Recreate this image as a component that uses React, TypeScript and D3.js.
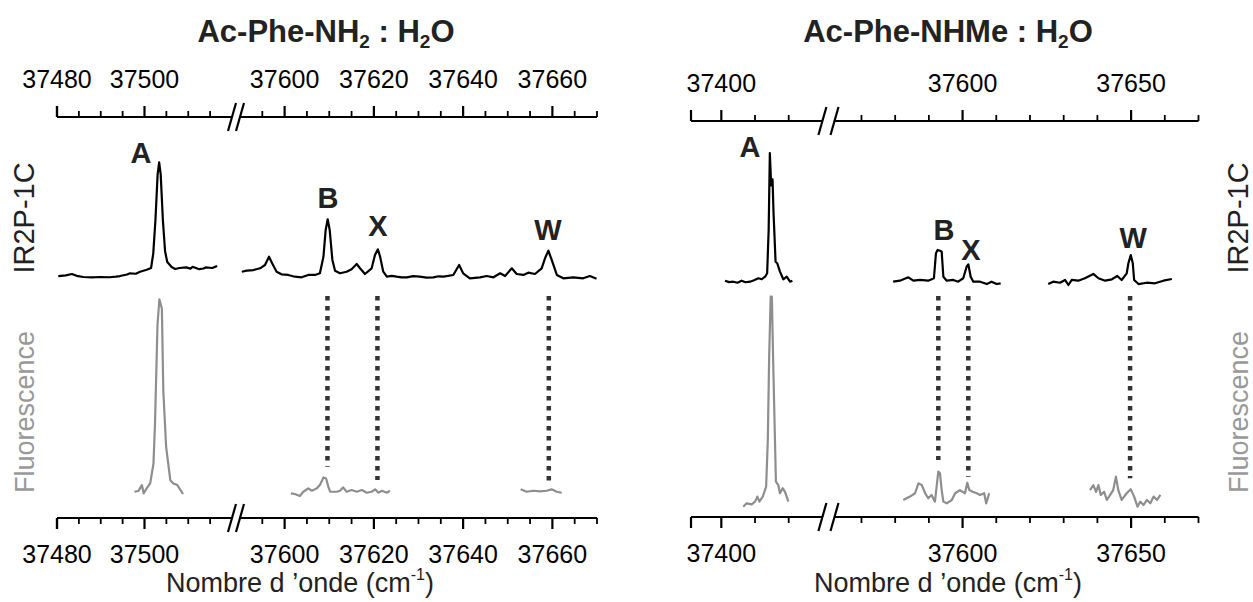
import React from 'react';
import * as d3 from 'd3';

type Pt = [number, number];

// ---------- tick values ----------
const leftMajor = [37480, 37500, 37600, 37620, 37640, 37660];
const leftMinor = [37485, 37490, 37495, 37505, 37510, 37515, 37595, 37605, 37610, 37615, 37625, 37630, 37635, 37645, 37650, 37655, 37665, 37670];
const rightMajor = [37400, 37600, 37650];
const rightMinor = [37410, 37420, 37570, 37580, 37590, 37610, 37620, 37630, 37640, 37660, 37670];

// ---------- Ac-Phe-NH2 : H2O ----------
const irA_L: Pt[] = [[37480.3,3.3],[37482,3.9],[37483.4,5.0],[37484.5,3.5],[37486,2.5],[37488,2.2],[37490,2.5],[37492,2.3],[37493.5,2.8],[37494.4,3.3],[37496,4.6],[37496.7,5.6],[37498,5.2],[37499,6.9],[37500.5,8.5],[37501.5,10],[37502,22],[37502.5,50],[37503,88],[37503.35,98],[37503.7,88],[37504.2,50],[37504.7,24],[37505.2,15],[37506.2,10.8],[37507,9.2],[37508,10],[37509.5,10.5],[37510.5,9.5],[37511,11],[37512.5,9],[37513.5,9.6],[37514,10.5],[37515.5,10],[37516.6,11.7]];
const irR_L: Pt[] = [[37590.4,6.9],[37591.5,7.75],[37593.0,8.3],[37594.5,9.75],[37595.6,12.5],[37596.5,19.4],[37597.2,13.9],[37598.2,6.9],[37599.3,4.75],[37600.8,4.2],[37602.3,2.75],[37603.8,2.25],[37605.3,4.2],[37606.8,4.2],[37607.9,5.6],[37608.7,19.4],[37609.2,41.7],[37609.65,50.6],[37610.1,41.7],[37610.7,16.7],[37611.3,7.75],[37612.4,5.6],[37613.9,6.9],[37615.0,8.9],[37616.15,13.3],[37616.9,9.75],[37618.0,5],[37619.5,9.75],[37620.25,20.8],[37620.9,25.6],[37621.4,19.4],[37622.1,6.9],[37622.9,2.75],[37624,3.4],[37625.1,2.75],[37626.2,2.2],[37627.4,2.25],[37628.8,3.2],[37630.3,2.75],[37631.8,2.0],[37633.3,2.25],[37634.5,3.1],[37635.6,2.75],[37637.8,4.2],[37639.1,12.5],[37640.0,5.6],[37641.5,1.4],[37643.8,2.25],[37645.3,3.3],[37646.8,2.25],[37648.3,5.6],[37649.4,3.3],[37650.9,9.75],[37652.0,5],[37653.5,4.2],[37654.6,6.1],[37656.1,5],[37657.6,9.75],[37658.35,18.1],[37659.1,24.4],[37659.85,16.7],[37661.0,4.2],[37662.45,1.4],[37664.7,2.25],[37666.9,1.4],[37668.4,3.3],[37669.9,1.1]];
const flA_L: Pt[] = [[37497.7,1.65],[37498.6,2],[37499.4,5],[37499.8,0.85],[37500.5,3.35],[37501.3,5.85],[37502.05,15.85],[37502.4,36],[37502.97,86],[37503.4,98.85],[37503.97,94.15],[37504.3,52.5],[37504.95,24.15],[37505.9,7.5],[37506.6,5.85],[37507.5,5],[37508.8,0.5]];
const flB_L: Pt[] = [[37601.4,0.85],[37602.3,0.5],[37603.4,-0.5],[37604.2,1.65],[37605.3,3.35],[37606.1,2.15],[37607.2,3.35],[37607.9,5],[37608.7,8.85],[37609.3,8.35],[37609.8,4.15],[37610.2,1.65],[37611.7,1.65],[37612.4,2.15],[37613.1,3.85],[37613.9,1.65],[37615.0,2.5],[37616.2,1.65],[37617.3,2.5],[37618.4,1.15],[37619.5,1.65],[37620.3,2.85],[37621.0,1.15],[37621.8,2.15],[37622.9,1.15],[37623.6,2.15]];
const flW_L: Pt[] = [[37652.9,2.85],[37654.2,1.65],[37655.7,2.15],[37657.2,1.85],[37658.7,2.15],[37659.8,2.85],[37661.0,1.65],[37662.1,1.15]];
const dotsL = [37609.6, 37620.8, 37659.2];
const dotsLBottom = [14.3, 7.6, 6.7];

// ---------- Ac-Phe-NHMe : H2O ----------
const irA_R: Pt[] = [[37401.1,3.6],[37402.3,2.4],[37403.55,2.75],[37404.8,1.9],[37406.0,3.6],[37407.2,2.3],[37408.5,2.75],[37409.7,4.0],[37411.0,5.6],[37412.0,4.8],[37413.0,6.9],[37413.6,9.75],[37414.05,45.8],[37414.4,110],[37414.8,83],[37415.2,88],[37415.5,60],[37416.1,19.4],[37416.6,18.1],[37417.4,11.1],[37418.4,4.75],[37419.4,6.9],[37420.4,2.75],[37421.1,3.6]];
const irB_R: Pt[] = [[37579.4,2.75],[37581.4,3.6],[37583.9,6.4],[37585.4,3.6],[37587.4,4.2],[37589.8,3.6],[37591.5,5.6],[37592.1,26.4],[37592.6,29.2],[37593.3,28.6],[37593.8,27.75],[37594.3,6.9],[37595.3,3.6],[37597.25,4.2],[37598.7,2.75],[37600.2,5.6],[37601.2,15.25],[37601.7,17.25],[37602.4,6.9],[37603.2,2.75],[37605.2,2.75],[37607.2,0.8],[37608.6,2.75],[37610.1,0.8],[37611.3,1.4]];
const irW_R: Pt[] = [[37625.4,0.8],[37626.9,2.75],[37628.9,1.9],[37630.4,4.2],[37631.4,0],[37632.4,4.2],[37634.3,3.6],[37636.3,5.6],[37638.8,9.2],[37640.3,5.6],[37642.3,3.6],[37644.3,4.75],[37645.9,7.5],[37647.2,4.2],[37648.7,9.75],[37649.2,18.1],[37649.9,25],[37650.5,18.1],[37650.9,4.2],[37652.2,0.8],[37654.6,1.9],[37657.1,1.4],[37659.6,3.6],[37662.1,5]];
const flA_R: Pt[] = [[37406.5,-0.8],[37407.5,0.8],[37409.0,0.3],[37410.0,1.6],[37410.7,4],[37411.3,1.6],[37412.3,4],[37413.3,8.7],[37413.8,31],[37414.2,70.6],[37414.65,99.2],[37415.0,99.2],[37415.4,67.5],[37415.9,32.5],[37416.2,11.1],[37416.9,9.5],[37417.4,5.6],[37418.2,8],[37418.9,6.3],[37419.9,1.6]];
const flB_R: Pt[] = [[37582.4,2.4],[37584.4,4],[37585.9,5.6],[37586.9,10.3],[37587.9,9.5],[37588.9,5.6],[37589.8,3.2],[37590.8,4.8],[37591.8,1.6],[37592.3,8.7],[37592.8,15.9],[37593.3,15.1],[37593.8,7.1],[37594.3,1.6],[37595.3,0.8],[37596.8,2.4],[37597.8,5.6],[37599.2,7.1],[37600.7,5.6],[37601.4,10.6],[37602.0,7.1],[37603.0,6.3],[37604.2,5.6],[37605.2,4.8],[37606.4,5.6],[37607.0,0.8],[37607.9,5.6]];
const flW_R: Pt[] = [[37637.8,7.1],[37638.8,9.5],[37639.6,6.3],[37640.3,9.5],[37641.0,4.8],[37642.0,6.3],[37642.8,2.4],[37643.8,4.8],[37644.7,7.1],[37645.5,13.5],[37646.2,7.1],[37647.2,2.4],[37648.7,5.6],[37649.9,7.5],[37650.9,4],[37651.9,-0.8],[37652.7,1.6],[37653.7,0],[37654.7,2.4],[37655.7,0.8],[37656.7,4],[37657.7,2.4],[37658.7,4.8]];
const dotsR = [37592.8, 37601.7, 37649.7];
const dotsRBottom = [21.4, 13.5, 12.7];

// peak letters: [letter, wavenumber, IR level]
const lettersL: [string, number, number][] = [['A', 37499.2, 97.5], ['B', 37609.7, 60], ['X', 37620.9, 36.7], ['W', 37659.0, 33.3]];
const lettersR: [string, number, number][] = [['A', 37408.5, 106.7], ['B', 37594.5, 37.5], ['X', 37602.5, 20.8], ['W', 37650.6, 30.8]];

const FONT = '"Liberation Sans", Arial, Helvetica, sans-serif';
const BLACK = '#000';
const GRAY = '#8e8e8e';
const DOT = '#333';

interface PanelCfg {
  seg1: d3.ScaleLinear<number, number>;
  seg2: d3.ScaleLinear<number, number>;
  split: number;
  irY: d3.ScaleLinear<number, number>;
  flY: d3.ScaleLinear<number, number>;
  topY: number;
  botY: number;
  major: number[];
  minor: number[];
  ir: Pt[][];
  fl: Pt[][];
  dots: number[];
  dotsBottom: number[];
  letters: [string, number, number][];
  titleX: number;
  xTitleX: number;
  title: React.ReactNode;
}

function Axis({ p, y, dir }: { p: PanelCfg; y: number; dir: 1 | -1 }) {
  const x = (v: number) => (v < p.split ? p.seg1(v) : p.seg2(v));
  const r1 = p.seg1.range();
  const r2 = p.seg2.range();
  const b1 = r1[1];
  const b2 = r2[0];
  return (
    <g>
      <line x1={r1[0]} x2={b1} y1={y} y2={y} stroke={BLACK} strokeWidth={2.2} />
      <line x1={b2} x2={r2[1]} y1={y} y2={y} stroke={BLACK} strokeWidth={2.2} />
      <line x1={r1[0]} x2={r1[0]} y1={y} y2={y + dir * 11} stroke={BLACK} strokeWidth={2.2} />
      {p.major.map((v) => (
        <line key={'M' + v} x1={x(v)} x2={x(v)} y1={y} y2={y + dir * 11} stroke={BLACK} strokeWidth={2.2} />
      ))}
      {p.minor.map((v) => (
        <line key={'m' + v} x1={x(v)} x2={x(v)} y1={y} y2={y + dir * 6} stroke={BLACK} strokeWidth={1.8} />
      ))}
      {[b1, b2].map((bx, i) => (
        <line key={'b' + i} x1={bx - 4} y1={y + 14} x2={bx + 4} y2={y - 14} stroke={BLACK} strokeWidth={2.2} />
      ))}
      {p.major.map((v) => (
        <text key={'t' + v} x={x(v)} y={dir === 1 ? y + 45 : y - 29} textAnchor="middle" fontSize={25} fontFamily={FONT} fill={BLACK}>
          {v}
        </text>
      ))}
    </g>
  );
}

function Panel({ p }: { p: PanelCfg }) {
  const x = (v: number) => (v < p.split ? p.seg1(v) : p.seg2(v));
  const irLine = d3.line<Pt>().x((d) => x(d[0])).y((d) => p.irY(d[1]));
  const flLine = d3.line<Pt>().x((d) => x(d[0])).y((d) => p.flY(d[1]));
  return (
    <g>
      <text x={p.titleX} y={42} textAnchor="middle" fontSize={31} fontWeight="bold" fontFamily={FONT} fill="#222">
        {p.title}
      </text>
      <Axis p={p} y={p.topY} dir={-1} />
      <Axis p={p} y={p.botY} dir={1} />
      {p.ir.map((s, i) => (
        <path key={'ir' + i} d={irLine(s) || ''} fill="none" stroke={BLACK} strokeWidth={2.2} strokeLinejoin="round" />
      ))}
      {p.fl.map((s, i) => (
        <path key={'fl' + i} d={flLine(s) || ''} fill="none" stroke={GRAY} strokeWidth={2.2} strokeLinejoin="round" />
      ))}
      {p.dots.map((v, i) => (
        <line key={'d' + i} x1={x(v)} x2={x(v)} y1={296} y2={p.flY(p.dotsBottom[i])} stroke={DOT} strokeWidth={4.5} strokeDasharray="4.5 5.5" />
      ))}
      {p.letters.map(([l, v, h]) => (
        <text key={l} x={x(v)} y={p.irY(h)} textAnchor="middle" fontSize={29} fontWeight="bold" fontFamily={FONT} fill="#222">
          {l}
        </text>
      ))}
      <text x={p.xTitleX} y={592} textAnchor="middle" fontSize={27} fontFamily={FONT} fill="#222">
        Nombre d {'\u2019'}onde (cm
        <tspan fontSize={16} dy={-12}>-1</tspan>
        <tspan dy={12}>)</tspan>
      </text>
    </g>
  );
}

const panelL: PanelCfg = {
  seg1: d3.scaleLinear().domain([37480, 37520]).range([57, 232]),
  seg2: d3.scaleLinear().domain([37590, 37670]).range([240, 597]),
  split: 37550,
  irY: d3.scaleLinear().domain([0, 100]).range([280, 160]),
  flY: d3.scaleLinear().domain([0, 100]).range([495, 297]),
  topY: 117,
  botY: 518,
  major: leftMajor,
  minor: leftMinor,
  ir: [irA_L, irR_L],
  fl: [flA_L, flB_L, flW_L],
  dots: dotsL,
  dotsBottom: dotsLBottom,
  letters: lettersL,
  titleX: 326,
  xTitleX: 300,
  title: (
    <>
      Ac-Phe-NH<tspan fontSize={19} dy={6}>2</tspan>
      <tspan dy={-6}> : H</tspan>
      <tspan fontSize={19} dy={6}>2</tspan>
      <tspan dy={-6}>O</tspan>
    </>
  ),
};

const panelR: PanelCfg = {
  seg1: d3.scaleLinear().domain([37391, 37430]).range([691, 822.4]),
  seg2: d3.scaleLinear().domain([37562, 37670]).range([834.5, 1198.5]),
  split: 37500,
  irY: d3.scaleLinear().domain([0, 100]).range([285, 165]),
  flY: d3.scaleLinear().domain([0, 100]).range([505, 295]),
  topY: 121,
  botY: 517,
  major: rightMajor,
  minor: rightMinor,
  ir: [irA_R, irB_R, irW_R],
  fl: [flA_R, flB_R, flW_R],
  dots: dotsR,
  dotsBottom: dotsRBottom,
  letters: lettersR,
  titleX: 948,
  xTitleX: 948,
  title: (
    <>
      Ac-Phe-NHMe : H<tspan fontSize={19} dy={6}>2</tspan>
      <tspan dy={-6}>O</tspan>
    </>
  ),
};

export default function App() {
  return (
    <svg width={1253} height={602} viewBox="0 0 1253 602" style={{ position: 'absolute', left: 0, top: 0, background: '#fff' }}>
      <rect width={1253} height={602} fill="#fff" />
      <Panel p={panelL} />
      <Panel p={panelR} />
      <text transform="translate(34,218) rotate(-90)" textAnchor="middle" fontSize={29} fontFamily={FONT} fill="#222">IR2P-1C</text>
      <text transform="translate(34,412) rotate(-90)" textAnchor="middle" fontSize={27} fontFamily={FONT} fill="#999">Fluorescence</text>
      <text transform="translate(1248,218) rotate(-90)" textAnchor="middle" fontSize={29} fontFamily={FONT} fill="#222">IR2P-1C</text>
      <text transform="translate(1248,412) rotate(-90)" textAnchor="middle" fontSize={27} fontFamily={FONT} fill="#999">Fluorescence</text>
    </svg>
  );
}
